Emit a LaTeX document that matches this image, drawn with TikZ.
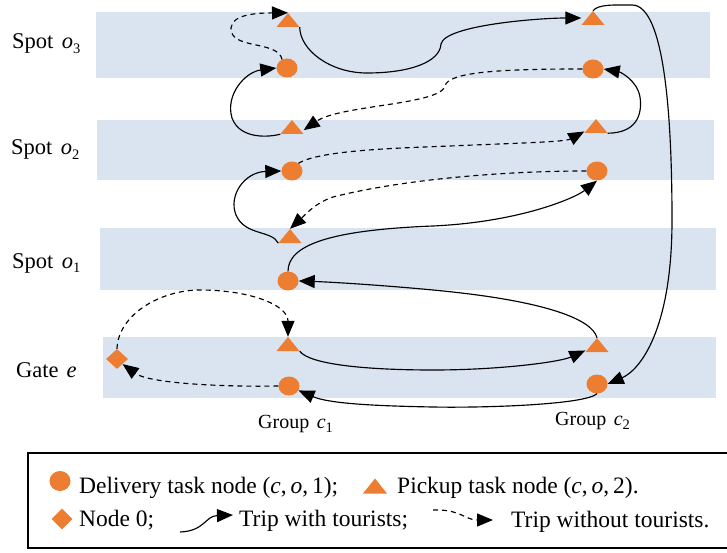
\documentclass[tikz,border=0pt]{standalone}
\usepackage{fontspec}
\setmainfont{Liberation Serif}
\usetikzlibrary{arrows.meta,shapes.geometric}
\definecolor{bandblue}{HTML}{DAE4F1}
\definecolor{taskorange}{HTML}{ED7D31}
\newcommand\vv[1]{\textit{#1}}
\newcommand\lowidx[1]{\raisebox{-0.2em}{\fontsize{14.5}{15}\selectfont #1}}

\begin{document}
\begin{tikzpicture}[x=1pt,y=-1pt,
  band/.style={fill=bandblue, draw=none},
  delivery/.style={ellipse, fill=taskorange, minimum width=21pt, minimum height=19pt, inner sep=0pt},
  pickup/.style={rectangle, inner sep=0pt, minimum width=23pt, minimum height=14pt,
    path picture={\fill[taskorange] (path picture bounding box.south west) -- (path picture bounding box.south east) -- (path picture bounding box.north) -- cycle;}},
  depot/.style={diamond, fill=taskorange, minimum width=22pt, minimum height=20pt, inner sep=0pt},
  loaded/.style={draw=black, line width=1.15pt, -{Triangle[length=16pt,width=13pt]}},
  empty/.style={loaded, dash pattern=on 5pt off 4pt},
  rowlabel/.style={anchor=base west, inner sep=0pt, font=\fontsize{22.5}{26}\selectfont},
  grouplabel/.style={anchor=base west, inner sep=0pt, font=\fontsize{20}{24}\selectfont},
  legtext/.style={anchor=base west, inner sep=0pt, font=\fontsize{23.5}{28}\selectfont},
]
\useasboundingbox (0,0) rectangle (727,553);

% spot and gate bands
\fill[band] (96,12) rectangle (710,78);
\fill[band] (97,120) rectangle (714,180);
\fill[band] (100,228) rectangle (716,290);
\fill[band] (103,337) rectangle (716,398);

% row and column labels
\node[rowlabel] (l3) at (12,49) {Spot\hspace{8.5pt}\vv{o}\lowidx{3}};
\node[rowlabel] (l2) at (11,155) {Spot\hspace{8.5pt}\vv{o}\lowidx{2}};
\node[rowlabel] (l1) at (12,268) {Spot\hspace{8.5pt}\vv{o}\lowidx{1}};
\node[rowlabel] (lg) at (16,377) {Gate\hspace{8pt}\vv{e}};
\node[grouplabel] (gc1) at (258,428) {Group\hspace{7.5pt}\vv{c}\lowidx{1}};
\node[grouplabel] (gc2) at (555,425) {Group\hspace{7.5pt}\vv{c}\lowidx{2}};

% task nodes, group c1
\node[pickup]   (o3p1) at (288,20) {};
\node[delivery] (o3d1) at (287,68) {};
\node[pickup]   (o2p1) at (292,127) {};
\node[delivery] (o2d1) at (292,171) {};
\node[pickup]   (o1p1) at (290,236) {};
\node[delivery] (o1d1) at (288,281) {};
\node[pickup]   (gp1)  at (288,344) {};
\node[delivery] (gd1)  at (289,386) {};
% task nodes, group c2
\node[pickup]   (o3p2) at (593,18) {};
\node[delivery] (o3d2) at (593,69) {};
\node[pickup]   (o2p2) at (596,126) {};
\node[delivery] (o2d2) at (597,171) {};
\node[pickup]   (gp2)  at (597,345) {};
\node[delivery] (gd2)  at (597,384) {};
% node 0
\node[depot] (n0) at (117,359) {};

% route
\draw[empty] (o3d1.120) .. controls (278,40) and (230,50) .. (231,28)
  .. controls (232,14) and (258,13) .. (o3p1.north);
\draw[loaded] (o3p1.south east) .. controls (300,50) and (330,73) .. (367,73)
  .. controls (410,73) and (440,62) .. (441,44)
  .. controls (445,25) and (540,18) .. (o3p2.west);
\draw[loaded] (o3p2.north) .. controls (598,4) and (615,5) .. (632,5)
  .. controls (665,5) and (672,120) .. (672,220)
  .. controls (672,330) and (640,370) .. (gd2.east);
\draw[loaded] (gd2.south) .. controls (585,405) and (480,408) .. (433,407)
  .. controls (380,406) and (330,404) .. (gd1.-25);
\draw[empty] (gd1.west) .. controls (230,387) and (150,384) .. (n0.south east);
\draw[empty] (n0.north) .. controls (118,315) and (160,290) .. (200,290)
  .. controls (250,290) and (288,305) .. (gp1.north);
\draw[loaded] (gp1.south east) .. controls (310,365) and (370,370) .. (433,370)
  .. controls (500,370) and (560,362) .. (gp2.205);
\draw[loaded] (gp2.north) .. controls (592,318) and (540,300) .. (433,290)
  .. controls (380,285) and (330,282) .. (o1d1.east);
\draw[loaded] (o1d1.north) .. controls (288,245) and (330,230) .. (433,226)
  .. controls (520,222) and (575,198) .. (o2d2.south);
\draw[empty] (o2d2.west) .. controls (500,171) and (400,180) .. (333,197)
  .. controls (315,203) and (305,215) .. (o1p1.north);
\draw[loaded] (o1p1.south west) .. controls (272,230) and (245,236) .. (236,215)
  .. controls (228,195) and (245,172) .. (o2d1.west);
\draw[empty] (o2d1.50) .. controls (320,150) and (400,148) .. (450,146)
  .. controls (520,143) and (565,142) .. (o2p2.205);
\draw[loaded] (o2p2.south east) .. controls (640,133) and (642,110) .. (640,97)
  .. controls (637,80) and (620,72) .. (o3d2.east);
\draw[empty] (o3d2.west) .. controls (500,69) and (448,72) .. (445,86)
  .. controls (440,105) and (340,105) .. (o2p1.-15);
\draw[loaded] (o2p1.south west) .. controls (270,137) and (240,140) .. (232,118)
  .. controls (225,95) and (245,72) .. (o3d1.west);

% legend
\draw[line width=2pt] (28,453) rectangle (729,548);
\node[delivery, minimum height=20pt] (kd) at (60,481) {};
\node[legtext] (kdt) at (79,493) {Delivery task node (\vv{c},\,\vv{o},\,1);};
\node[pickup, minimum width=24pt, minimum height=15pt] (kp) at (375,486) {};
\node[legtext] (kpt) at (397,493) {Pickup task node (\vv{c},\,\vv{o},\,2).};
\node[depot, minimum width=21pt, minimum height=21pt] (kn) at (62,519) {};
\node[legtext] (knt) at (79,526) {Node 0;};
\coordinate (ks1) at (180,532);
\coordinate (ks2) at (233,515);
\draw[loaded] (ks1) .. controls (205,531) and (205,516) .. (ks2);
\node[legtext] (kst) at (239,526) {Trip with tourists;};
\coordinate (ke1) at (433,510);
\coordinate (ke2) at (493,520);
\draw[empty] (ke1) .. controls (460,509) and (465,520) .. (ke2);
\node[legtext] (ket) at (511,527) {Trip without tourists.};
\end{tikzpicture}
\end{document}
